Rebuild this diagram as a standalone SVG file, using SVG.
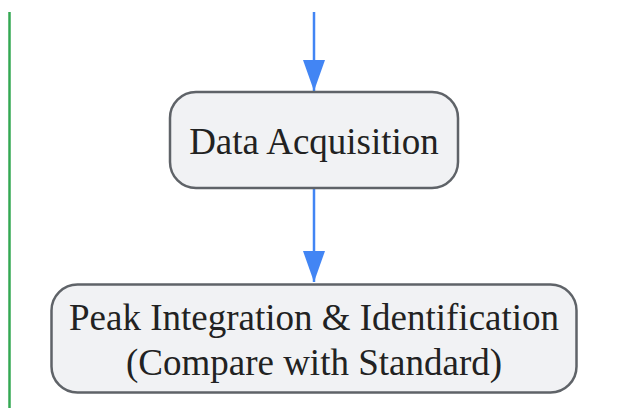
<svg xmlns="http://www.w3.org/2000/svg" width="617" height="408" viewBox="0 0 617 408">
<style>
.node rect{fill:#f1f2f4;stroke:#5f6368;stroke-width:2.5}
.node text{font-family:"Liberation Serif","Times New Roman",serif;font-size:37px;fill:#222;text-anchor:middle}
.edge{stroke:#4285f4;stroke-width:2.5;fill:none}
</style>
<defs>
<marker id="arr" markerUnits="userSpaceOnUse" markerWidth="31" markerHeight="22" refX="31" refY="11" orient="auto" viewBox="0 0 31 22">
<path d="M0,0 L31,11 L0,22 Z" fill="#4285f4"/>
</marker>
</defs>
<rect x="0" y="0" width="617" height="408" fill="#ffffff"/>
<line x1="9.5" y1="12" x2="9.5" y2="408" stroke="#34a853" stroke-width="2.5"/>
<g id="connectors">
<path class="edge" d="M314,12 L314,91" marker-end="url(#arr)"/>
<path class="edge" d="M314,189 L314,282" marker-end="url(#arr)"/>
</g>
<g id="node-data-acquisition" class="node">
<rect x="170" y="92" width="288" height="96" rx="26" ry="26"/>
<text x="314" y="154">Data Acquisition</text>
</g>
<g id="node-peak-integration" class="node">
<rect x="51.5" y="284.5" width="525" height="108" rx="26" ry="26"/>
<text x="314" y="330">Peak Integration &amp; Identification</text>
<text x="314" y="375">(Compare with Standard)</text>
</g>
</svg>
